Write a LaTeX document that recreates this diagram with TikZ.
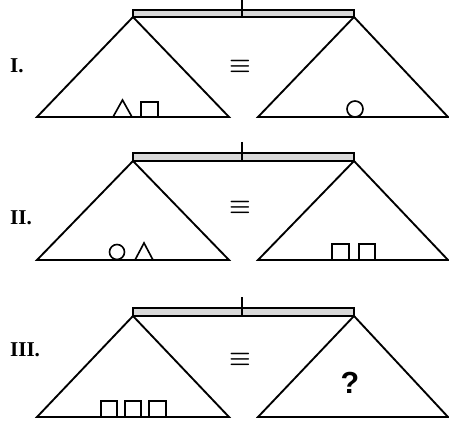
\documentclass[tikz,border=0pt]{standalone}
\usepackage{fontspec}
\setsansfont{Liberation Sans}
\setmainfont{Liberation Serif}
\begin{document}
\begin{tikzpicture}[x=0.3mm,y=-0.3mm,
  pan/.style={line width=1.6pt,line join=miter},
  beam/.style={line width=1.2pt,fill=black!15},
  item/.style={line width=1.4pt},
  tag/.style={anchor=west,font=\fontsize{18}{18}\selectfont\bfseries},
  eqsign/.style={font=\fontsize{21}{21}\selectfont\boldmath}]
  \useasboundingbox (0,0) rectangle (449,423);
  % the three balances: beam top, apex, base
  \foreach \t/\a/\b in {10/17/117, 153/161/260, 308/316/417}{
    \draw[beam] (133,\t) rectangle (354,\a);
    \draw[line width=1.2pt] (242,\t-11) -- (242,\a);
    \draw[pan] (37,\b) -- (133,\a) -- (229,\b) -- cycle;
    \draw[pan] (258,\b) -- (354,\a) -- (448,\b) -- cycle;
  }
  \node[tag] (one) at (6,66) {I.};
  \node[tag] (two) at (6,218) {II.};
  \node[tag] (three) at (6,350) {III.};
  \node[eqsign] (eqone) at (240,66) {$\equiv$};
  \node[eqsign] (eqtwo) at (240,207) {$\equiv$};
  \node[eqsign] (eqthree) at (240,359) {$\equiv$};
  % I.
  \draw[item] (113,117) -- (122.5,100) -- (132,117);
  \draw[item] (141,117) |- (158,102) -- (158,117);
  \draw[item] (355,109) circle (8);
  % II.
  \draw[item] (117,252) circle (7.5);
  \draw[item] (135,260) -- (144,243) -- (153,260);
  \draw[item] (332,260) |- (349,244) -- (349,260);
  \draw[item] (359,260) |- (375,244) -- (375,260);
  % III.
  \draw[item] (101,417) |- (117,401) -- (117,417);
  \draw[item] (125,417) |- (141,401) -- (141,417);
  \draw[item] (149,417) |- (166,401) -- (166,417);
  \node[font=\sffamily\bfseries\fontsize{26}{26}\selectfont] (ask) at (350,383) {?};
\end{tikzpicture}
\end{document}
